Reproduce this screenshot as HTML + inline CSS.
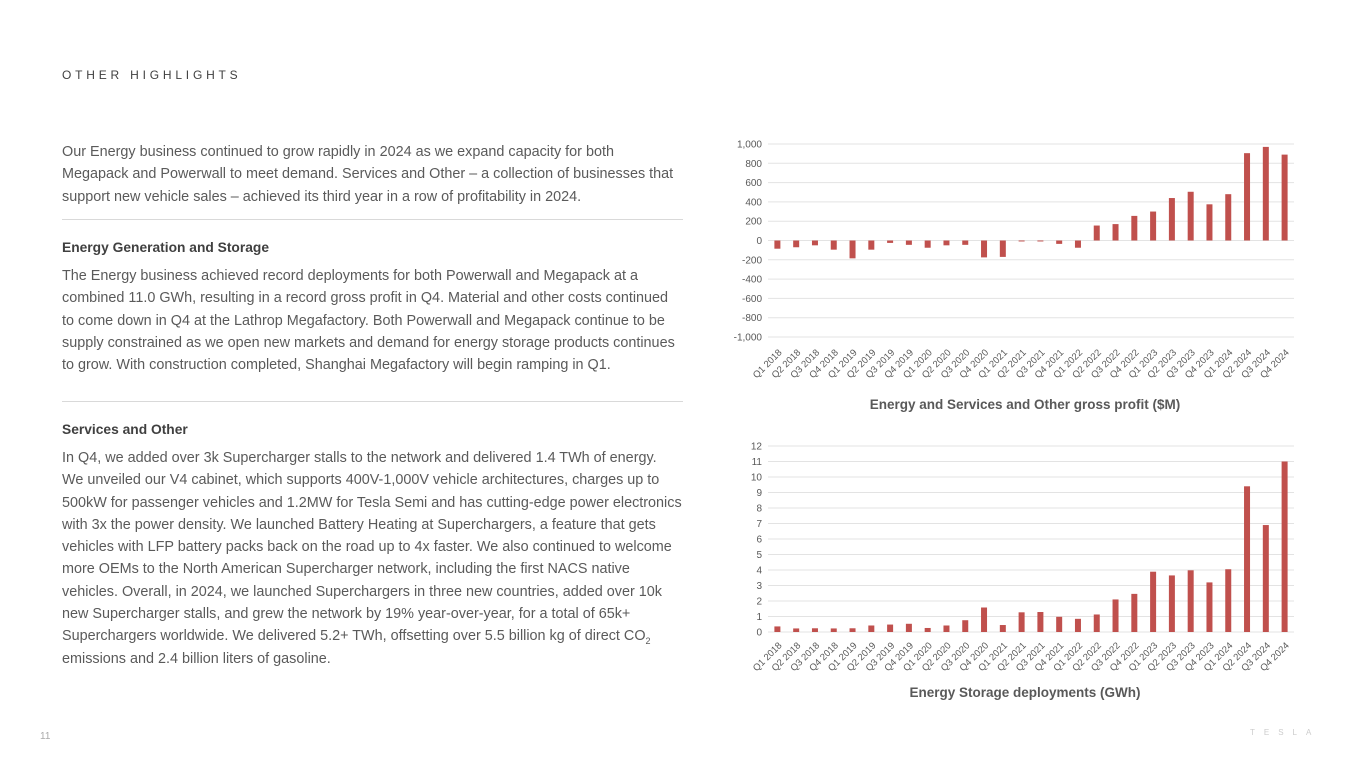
<!DOCTYPE html>
<html><head><meta charset="utf-8"><style>
body{margin:0;width:1365px;height:768px;background:#fff;font-family:"Liberation Sans",sans-serif;position:relative;overflow:hidden;color:#595959}
.t{position:absolute;left:62px;width:640px;font-size:14.4px;line-height:22.3px;color:#5a5a5a;white-space:nowrap}
sub{line-height:0;font-size:9px}
h3{position:absolute;left:62px;margin:0;font-size:13.8px;font-weight:bold;color:#404040}
.hr{position:absolute;left:62px;width:621px;height:1px;background:#d9d9d9}
svg{position:absolute;left:0;top:0}
</style></head><body>
<div style="position:absolute;left:62px;top:68px;font-size:12px;letter-spacing:3.8px;color:#404040">OTHER HIGHLIGHTS</div>
<div class="t" style="top:141px">Our Energy business continued to grow rapidly in 2024 as we expand capacity for both<br>Megapack and Powerwall to meet demand. Services and Other – a collection of businesses that<br>support new vehicle sales – achieved its third year in a row of profitability in 2024.</div>
<div class="hr" style="top:219px"></div>
<h3 style="top:240px">Energy Generation and Storage</h3>
<div class="t" style="top:265px">The Energy business achieved record deployments for both Powerwall and Megapack at a<br>combined 11.0 GWh, resulting in a record gross profit in Q4. Material and other costs continued<br>to come down in Q4 at the Lathrop Megafactory. Both Powerwall and Megapack continue to be<br>supply constrained as we open new markets and demand for energy storage products continues<br>to grow. With construction completed, Shanghai Megafactory will begin ramping in Q1.</div>
<div class="hr" style="top:401px"></div>
<h3 style="top:422px">Services and Other</h3>
<div class="t" style="top:447px">In Q4, we added over 3k Supercharger stalls to the network and delivered 1.4 TWh of energy.<br>We unveiled our V4 cabinet, which supports 400V-1,000V vehicle architectures, charges up to<br>500kW for passenger vehicles and 1.2MW for Tesla Semi and has cutting-edge power electronics<br>with 3x the power density. We launched Battery Heating at Superchargers, a feature that gets<br>vehicles with LFP battery packs back on the road up to 4x faster. We also continued to welcome<br>more OEMs to the North American Supercharger network, including the first NACS native<br>vehicles. Overall, in 2024, we launched Superchargers in three new countries, added over 10k<br>new Supercharger stalls, and grew the network by 19% year-over-year, for a total of 65k+<br>Superchargers worldwide. We delivered 5.2+ TWh, offsetting over 5.5 billion kg of direct CO<sub>2</sub><br>emissions and 2.4 billion liters of gasoline.</div>
<div style="position:absolute;left:40px;top:731px;font-size:10px;color:#aaa">11</div>
<div style="position:absolute;left:1250px;top:728px;font-size:8px;letter-spacing:9px;color:#ccc">TESLA</div>
<svg id="c" width="1365" height="768"></svg>
<script>
const cats=["Q1 2018","Q2 2018","Q3 2018","Q4 2018","Q1 2019","Q2 2019","Q3 2019","Q4 2019","Q1 2020","Q2 2020","Q3 2020","Q4 2020","Q1 2021","Q2 2021","Q3 2021","Q4 2021","Q1 2022","Q2 2022","Q3 2022","Q4 2022","Q1 2023","Q2 2023","Q3 2023","Q4 2023","Q1 2024","Q2 2024","Q3 2024","Q4 2024"];
const profit=[-85,-70,-50,-95,-185,-95,-25,-45,-75,-50,-45,-175,-170,-10,-10,-35,-75,155,170,255,300,440,505,375,480,905,970,890];
const storage=[0.36,0.23,0.24,0.23,0.24,0.42,0.48,0.53,0.26,0.42,0.76,1.58,0.45,1.27,1.29,0.98,0.85,1.13,2.1,2.46,3.89,3.65,3.98,3.2,4.05,9.4,6.9,11.0];
const profitTicks=[-1000,-800,-600,-400,-200,0,200,400,600,800,1000];
const storageTicks=[0,1,2,3,4,5,6,7,8,9,10,11,12];
const svg=document.getElementById('c');const NS='http://www.w3.org/2000/svg';
function mk(t,a,txt){const e=document.createElementNS(NS,t);for(const k in a)e.setAttribute(k,a[k]);if(txt!=null)e.textContent=txt;svg.appendChild(e);return e;}
function chart(name,vals,ticks,fmt,yTop,yBot,title,titleY){
 const min=ticks[0],max=ticks[ticks.length-1];
 const y=v=>yBot-(v-min)/(max-min)*(yBot-yTop);
 const x0=768,x1=1294,step=(x1-x0)/cats.length;const x=i=>x0+step*(i+0.5);
 ticks.forEach(t=>{
  const g=mk('line',{x1:x0,x2:x1,y1:y(t),y2:y(t),stroke:'#e3e3e3','stroke-width':1});
  
  
  const l=mk('text',{x:x0-6,y:y(t)+3.5,'text-anchor':'end','font-size':10,fill:'#595959','font-family':'Liberation Sans'},fmt(t));
  
  
 });
 vals.forEach((v,i)=>{
  const b=mk('rect',{x:x(i)-3,y:Math.min(y(v),y(0)),width:6,height:Math.abs(y(v)-y(0)),fill:'#c0504d'});
  
  
 });
 const lb=yBot+(name==='profit'?16:14);
 cats.forEach((c,i)=>{
  const t=mk('text',{x:x(i)+5,y:lb,'text-anchor':'end','font-size':9.5,fill:'#595959','font-family':'Liberation Sans',transform:`rotate(-45 ${x(i)+5} ${lb})`},c);
  
  
 });
 const tt=mk('text',{x:1025,y:titleY,'text-anchor':'middle','font-size':13.5,'font-weight':'bold',fill:'#595959','font-family':'Liberation Sans'},title);
 
 
}
chart('profit',profit,profitTicks,t=>t.toLocaleString('en-US'),144,337,'Energy and Services and Other gross profit ($M)',409);
chart('storage',storage,storageTicks,t=>String(t),446,632,'Energy Storage deployments (GWh)',697);
</script>
</body></html>
